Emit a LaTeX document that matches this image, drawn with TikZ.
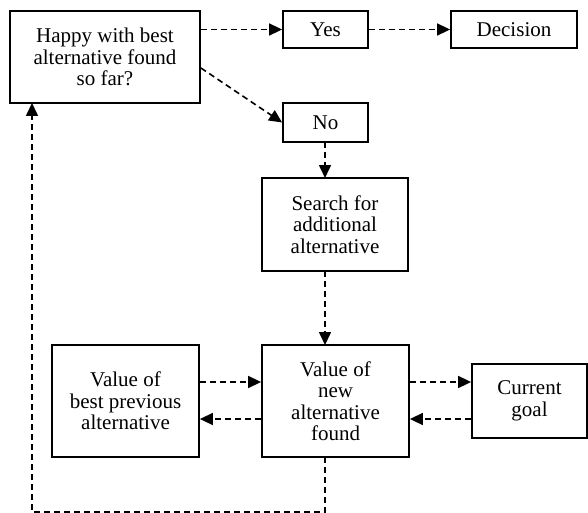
\documentclass[tikz,border=0pt]{standalone}
\usepackage{fontspec}
\setmainfont{Liberation Serif}
\usetikzlibrary{arrows.meta}
\begin{document}
\begin{tikzpicture}[x=1pt,y=-1pt,
  box/.style={draw, line width=1.8pt, inner sep=0pt, align=center, anchor=center,
    font=\fontsize{21}{21.5}\selectfont},
  link/.style={line width=1.6pt, dash pattern=on 6pt off 4pt, -{Triangle[length=13pt,width=12pt]}}]
\useasboundingbox (0,0) rectangle (588,513);
\node[box, minimum width=190pt, minimum height=92pt] (happy) at (105,57) {Happy with best\\alternative found\\so far?};
\node[box, minimum width=85pt, minimum height=37pt] (yes) at (325.5,29.5) {Yes};
\node[box, minimum width=126pt, minimum height=37pt] (dec) at (514,29.5) {Decision};
\node[box, minimum width=85pt, minimum height=39pt] (no) at (325.5,122.5) {No};
\node[box, minimum width=146pt, minimum height=93pt] (search) at (335,224.5) {Search for\\additional\\alternative};
\node[box, minimum width=147pt, minimum height=112pt] (new) at (335.5,401) {Value of\\new\\alternative\\found};
\node[box, minimum width=147pt, minimum height=112pt] (best) at (125.5,401) {Value of\\best previous\\alternative};
\node[box, minimum width=115pt, minimum height=74pt] (goal) at (529.5,401) {Current\\goal};
\coordinate (lc) at (325,512);
\coordinate (hb) at (32,103);
\draw[link] (happy.east |- yes.west) -- (yes.west);
\draw[link] (yes.east) -- (dec.west);
\draw[link] ([yshift=-11pt]happy.east) -- (no.west);
\draw[link] (325,142) -- (325,178);
\draw[link] (325,271) -- (325,345);
\draw[link] (best.east |- 0,382) -- (new.west |- 0,382);
\draw[link] (new.west |- 0,419) -- (best.east |- 0,419);
\draw[link] (new.east |- 0,382) -- (goal.west |- 0,382);
\draw[link] (goal.west |- 0,419) -- (new.east |- 0,419);
\draw[link] (325,457) -- (lc) -| (hb);
\end{tikzpicture}
\end{document}
